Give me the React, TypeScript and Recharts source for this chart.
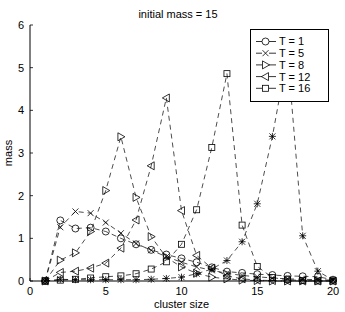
import React from 'react'
import { LineChart, Line, XAxis, YAxis, Legend, Label } from 'recharts'

const clusterSize = [1, 2, 3, 4, 5, 6, 7, 8, 9, 10, 11, 12, 13, 14, 15, 16, 17, 18, 19, 20]

const massT1 = [0, 1.42, 1.23, 1.25, 1.16, 1.0, 0.86, 0.73, 0.62, 0.53, 0.44, 0.32, 0.22, 0.19, 0.16, 0.14, 0.12, 0.11, 0.1, 0.03]
const massT5 = [0, 1.26, 1.63, 1.59, 1.37, 1.12, 0.88, 0.72, 0.57, 0.44, 0.33, 0.25, 0.18, 0.13, 0.1, 0.07, 0.05, 0.04, 0.03, 0.02]
const massT8 = [0, 0.49, 0.66, 1.16, 2.12, 3.38, 1.96, 1.04, 0.55, 0.33, 0.18, 0.09, 0.05, 0.02, 0.01, 0, 0, 0, 0, 0]
const massT12 = [0, 0.2, 0.23, 0.3, 0.42, 0.77, 1.43, 2.7, 4.29, 1.65, 0.6, 0.3, 0.12, 0.05, 0.02, 0.01, 0, 0, 0, 0]
const massT16 = [0, 0.02, 0.04, 0.07, 0.1, 0.12, 0.17, 0.28, 0.45, 0.86, 1.67, 3.13, 4.86, 1.31, 0.34, 0.08, 0.03, 0.01, 0, 0]
const massT20 = [0, 0.04, 0.03, 0.03, 0.03, 0.03, 0.03, 0.04, 0.06, 0.09, 0.17, 0.28, 0.48, 0.92, 1.81, 3.39, 5.33, 1.06, 0.23, 0.02]

const xTicks = [0, 5, 10, 15, 20]
const yTicks = [0, 1, 2, 3, 4, 5, 6]

type Shape = 'circle' | 'cross' | 'right' | 'left' | 'square' | 'star'

const series: { key: string; name: string; shape: Shape; values: number[]; inLegend: boolean }[] = [
  { key: 't1', name: 'T = 1', shape: 'circle', values: massT1, inLegend: true },
  { key: 't5', name: 'T = 5', shape: 'cross', values: massT5, inLegend: true },
  { key: 't8', name: 'T = 8', shape: 'right', values: massT8, inLegend: true },
  { key: 't12', name: 'T = 12', shape: 'left', values: massT12, inLegend: true },
  { key: 't16', name: 'T = 16', shape: 'square', values: massT16, inLegend: true },
  { key: 't20', name: 'T = 20', shape: 'star', values: massT20, inLegend: false },
]

const data = clusterSize.map((size, i) => {
  const row: Record<string, number> = { size }
  series.forEach((s) => (row[s.key] = s.values[i]))
  return row
})

const INK = '#000'
const FONT = '"Liberation Sans", Arial, sans-serif'
const AXIS_Y = 281
const AXIS_X = 30

function Marker({ shape, cx, cy }: { shape: Shape; cx: number; cy: number }) {
  const p = { fill: 'none', stroke: INK, strokeWidth: 0.8 }
  switch (shape) {
    case 'circle':
      return <circle cx={cx} cy={cy} r={3.5} {...p} />
    case 'cross':
      return (
        <g {...p}>
          <line x1={cx - 3} y1={cy - 3} x2={cx + 3} y2={cy + 3} />
          <line x1={cx - 3} y1={cy + 3} x2={cx + 3} y2={cy - 3} />
        </g>
      )
    case 'star':
      return (
        <g {...p}>
          <line x1={cx - 3} y1={cy - 3} x2={cx + 3} y2={cy + 3} />
          <line x1={cx - 3} y1={cy + 3} x2={cx + 3} y2={cy - 3} />
          <line x1={cx} y1={cy - 3.5} x2={cx} y2={cy + 3.5} />
          <line x1={cx - 3.5} y1={cy} x2={cx + 3.5} y2={cy} />
        </g>
      )
    case 'right':
      return <polygon points={`${cx + 4},${cy} ${cx - 3},${cy - 4} ${cx - 3},${cy + 4}`} {...p} />
    case 'left':
      return <polygon points={`${cx - 4},${cy} ${cx + 3},${cy - 4} ${cx + 3},${cy + 4}`} {...p} />
    case 'square':
      return <rect x={cx - 3} y={cy - 3} width={6} height={6} {...p} />
  }
}

function XTick(props: any) {
  const { x, y, payload } = props
  return (
    <g>
      <line x1={x} y1={AXIS_Y} x2={x} y2={AXIS_Y - 3} stroke={INK} strokeWidth={0.8} />
      <text x={x} y={y} dy="0.71em" textAnchor="middle" fontSize={11} fontFamily={FONT} fill={INK}>
        {payload.value}
      </text>
    </g>
  )
}

function YTick(props: any) {
  const { x, y, payload } = props
  return (
    <g>
      <line x1={AXIS_X} y1={y} x2={AXIS_X + 3} y2={y} stroke={INK} strokeWidth={0.8} />
      <text x={x} y={y} dy="0.355em" textAnchor="end" fontSize={11} fontFamily={FONT} fill={INK}>
        {payload.value}
      </text>
    </g>
  )
}

function LegendBox() {
  const rows = series.filter((s) => s.inLegend)
  return (
    <svg width={79} height={73} style={{ display: 'block' }}>
      <rect x={0.5} y={0.5} width={78} height={72} fill="#fff" stroke={INK} strokeWidth={1} />
      {rows.map((s, i) => {
        const cy = 12.5 + i * 11.7
        return (
          <g key={s.key}>
            <line x1={6} y1={cy} x2={12} y2={cy} stroke={INK} strokeWidth={0.8} />
            <line x1={19} y1={cy} x2={26} y2={cy} stroke={INK} strokeWidth={0.8} />
            <Marker shape={s.shape} cx={15.5} cy={cy} />
            <text x={29} y={cy} dy="0.355em" fontSize={11} fontFamily={FONT} fill={INK}>
              {s.name}
            </text>
          </g>
        )
      })}
    </svg>
  )
}

export default function App() {
  return (
    <div style={{ position: 'absolute', left: 0, top: 0, background: '#fff' }}>
      <LineChart width={345} height={312} data={data} margin={{ top: 25, right: 12, bottom: 0, left: 0 }}>
        <text x={178} y={14} dy="0.355em" textAnchor="middle" fontSize={11} fontFamily={FONT} fill={INK}>
          initial mass = 15
        </text>
        <XAxis
          dataKey="size"
          type="number"
          domain={[0, 20]}
          ticks={xTicks}
          height={31}
          tickSize={0}
          tickMargin={6}
          tickLine={false}
          axisLine={{ stroke: INK, strokeWidth: 1 }}
          tick={<XTick />}
          interval={0}
        >
          <Label
            value="cluster size"
            position="insideBottom"
            offset={4}
            style={{ fontSize: 11, fontFamily: FONT, fill: INK }}
          />
        </XAxis>
        <YAxis
          type="number"
          domain={[0, 6]}
          ticks={yTicks}
          width={30}
          tickSize={0}
          tickMargin={6}
          tickLine={false}
          axisLine={{ stroke: INK, strokeWidth: 1 }}
          tick={<YTick />}
          interval={0}
        >
          <Label
            content={() => (
              <text x={12} y={153} transform="rotate(-90 12 153)" textAnchor="middle" fontSize={11} fontFamily={FONT} fill={INK}>
                mass
              </text>
            )}
          />
        </YAxis>
        <Legend
          layout="vertical"
          align="center"
          verticalAlign="middle"
          content={() => <LegendBox />}
          wrapperStyle={{ left: 250, top: 29, right: 'auto', bottom: 'auto', width: 79, height: 73 }}
        />
        {series.map((s) => (
          <Line
            key={s.key}
            dataKey={s.key}
            name={s.name}
            stroke={INK}
            strokeWidth={0.7}
            strokeDasharray="5 4"
            isAnimationActive={false}
            legendType={s.inLegend ? 'line' : 'none'}
            dot={(d: any) => <Marker key={`${s.key}-${d.index}`} shape={s.shape} cx={d.cx} cy={d.cy} />}
            activeDot={false}
          />
        ))}
      </LineChart>
    </div>
  )
}
